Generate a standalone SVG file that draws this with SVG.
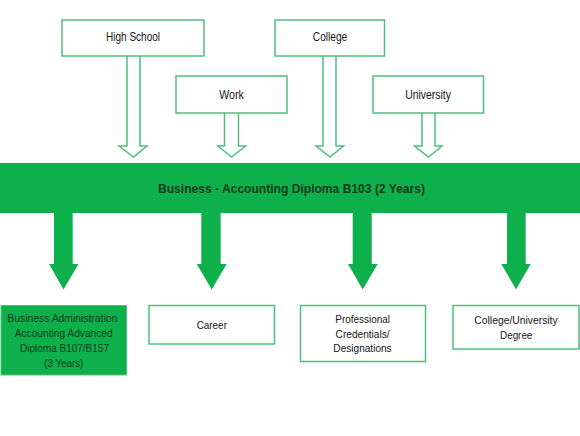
<svg xmlns="http://www.w3.org/2000/svg" width="580" height="436" viewBox="0 0 580 436">
<style>
.box{fill:#fff;stroke:#4fbf7f;stroke-width:1.5}
.gbox{fill:#0eb04b;stroke:#4fbf7f;stroke-width:1}
.open{fill:#fff;stroke:#4fbf7f;stroke-width:1.5;stroke-linejoin:miter}
.solid{fill:#0eb04b;stroke:none}
text{font-family:"Liberation Sans",Arial,sans-serif;font-size:11.5px;text-anchor:middle;fill:#161616}
.top{font-size:12.5px}
.dark{fill:#0f3a1d}
.bold{font-weight:bold;font-size:13px}
</style>
<rect width="580" height="436" fill="#fff"/>
<g id="connectors">
<path class="open" d="M127,56 L127,146 L119,146 L133.5,157 L147,146 L140,146 L140,56"/>
<path class="open" d="M224.5,113 L224.5,146 L218,146 L231.5,157 L245.5,146 L238.5,146 L238.5,113"/>
<path class="open" d="M323,56 L323,146 L316,146 L330,157 L343.5,146 L336,146 L336,56"/>
<path class="open" d="M422,113 L422,146 L414.5,146 L428.5,157 L442,146 L435,146 L435,113"/>
<path class="solid" d="M54,212 L54,264 L49,264 L63.5,289.5 L78.5,264 L72.7,264 L72.7,212 Z"/>
<path class="solid" d="M201.3,212 L201.3,264 L196.7,264 L211.7,289.5 L226.7,264 L220.7,264 L220.7,212 Z"/>
<path class="solid" d="M352.7,212 L352.7,264 L348,264 L362.7,289.5 L377.7,264 L371.7,264 L371.7,212 Z"/>
<path class="solid" d="M507,212 L507,264 L501.3,264 L516,289.5 L530.7,264 L525.7,264 L525.7,212 Z"/>
</g>
<g id="high-school"><rect class="box" x="62" y="20" width="142" height="36"/><text class="top" x="133" y="41" textLength="54" lengthAdjust="spacingAndGlyphs">High School</text></g>
<g id="work"><rect class="box" x="176" y="76" width="111" height="37"/><text class="top" x="231.5" y="98.5" textLength="24.5" lengthAdjust="spacingAndGlyphs">Work</text></g>
<g id="college"><rect class="box" x="275" y="20" width="109.5" height="36"/><text class="top" x="330" y="41" textLength="34.3" lengthAdjust="spacingAndGlyphs">College</text></g>
<g id="university"><rect class="box" x="373" y="76" width="110.5" height="37"/><text class="top" x="428" y="98.5" textLength="45.7" lengthAdjust="spacingAndGlyphs">University</text></g>
<g id="diploma"><rect class="solid" x="0" y="163" width="580" height="50"/><text class="dark bold" x="291.5" y="192.5" textLength="267" lengthAdjust="spacingAndGlyphs">Business - Accounting Diploma B103 (2 Years)</text></g>
<g id="advanced"><rect class="gbox" x="1" y="305.5" width="125.5" height="69.5"/>
<text class="dark" x="62.3" y="322.3" textLength="110" lengthAdjust="spacingAndGlyphs">Business Administration</text>
<text class="dark" x="63.7" y="337.3" textLength="98" lengthAdjust="spacingAndGlyphs">Accounting Advanced</text>
<text class="dark" x="64.5" y="352.3" textLength="89" lengthAdjust="spacingAndGlyphs">Diploma B107/B157</text>
<text class="dark" x="63.8" y="366.7" textLength="39" lengthAdjust="spacingAndGlyphs">(3 Years)</text></g>
<g id="career"><rect class="box" x="149" y="305.5" width="125.5" height="38.5"/><text x="211.8" y="328.8" textLength="30.3" lengthAdjust="spacingAndGlyphs">Career</text></g>
<g id="professional"><rect class="box" x="300.5" y="305.5" width="125" height="56"/>
<text x="362.6" y="323.3" textLength="54.7" lengthAdjust="spacingAndGlyphs">Professional</text>
<text x="362.6" y="338" textLength="54" lengthAdjust="spacingAndGlyphs">Credentials/</text>
<text x="362.5" y="352.3" textLength="58.3" lengthAdjust="spacingAndGlyphs">Designations</text></g>
<g id="degree"><rect class="box" x="453" y="305.5" width="126" height="43.5"/>
<text x="516" y="324.3" textLength="83.3" lengthAdjust="spacingAndGlyphs">College/University</text>
<text x="516.2" y="338.7" textLength="32.3" lengthAdjust="spacingAndGlyphs">Degree</text></g>
</svg>
